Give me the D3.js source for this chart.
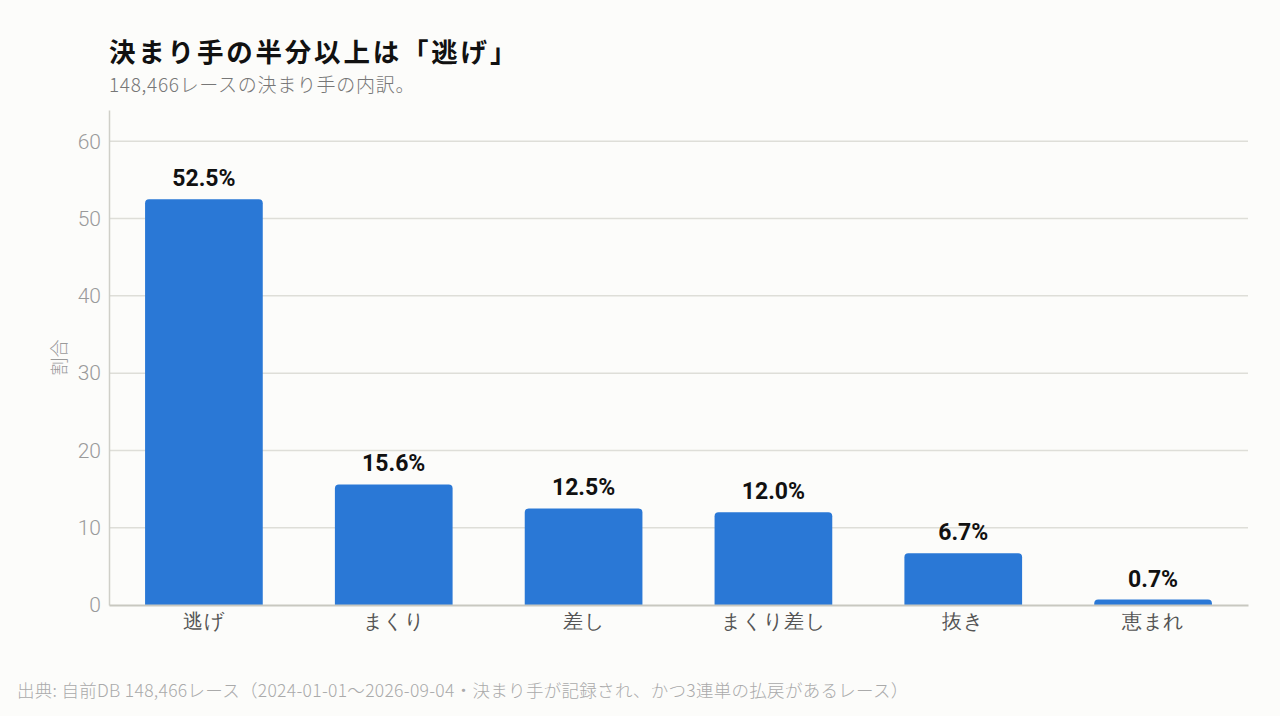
<!DOCTYPE html>
<html lang="ja">
<head>
<meta charset="utf-8">
<script src="https://cdn.jsdelivr.net/npm/d3@7"></script>
<style>
  html, body { margin: 0; padding: 0; background: #fcfcfa; }
  svg { display: block; font-family: "Noto Sans CJK JP", "Noto Sans", sans-serif; }
</style>
</head>
<body>
<div id="chart"></div>
<script>
// データ
const categories = ["逃げ", "まくり", "差し", "まくり差し", "抜き", "恵まれ"];
const shares = [52.5, 15.6, 12.5, 12.0, 6.7, 0.7];
const yTicks = [0, 10, 20, 30, 40, 50, 60];

const width = 1280;
const height = 716;
const margin = { top: 110, right: 32, bottom: 111, left: 109 };
const innerW = width - margin.left - margin.right;
const innerH = height - margin.top - margin.bottom;

const svg = d3.select("#chart")
    .append("svg")
    .attr("width", width)
    .attr("height", height);

svg.append("rect")
    .attr("width", width)
    .attr("height", height)
    .attr("fill", "#fcfcfa");

// タイトル
svg.append("text")
    .attr("x", 109)
    .attr("y", 62)
    .attr("font-size", 26.5)
    .attr("font-weight", 700)
    .attr("letter-spacing", 2.8)
    .attr("fill", "#111")
    .text("決まり手の半分以上は「逃げ」");

svg.append("text")
    .attr("x", 109)
    .attr("y", 92)
    .attr("font-size", 19)
    .attr("font-weight", 300)
    .attr("letter-spacing", 0.7)
    .attr("fill", "#777")
    .text("148,466レースの決まり手の内訳。");

const g = svg.append("g")
    .attr("transform", `translate(${margin.left}, ${margin.top})`);

// スケール
const x = d3.scaleBand()
    .domain(categories)
    .range([0, innerW])
    .paddingInner(0.38)
    .paddingOuter(0.19);

const y = d3.scaleLinear()
    .domain([0, d3.max(shares) * 1.22])
    .range([innerH, 0]);

// グリッド
g.append("g")
    .selectAll("line")
    .data(yTicks.filter(d => d > 0))
    .enter()
    .append("line")
    .attr("x1", 0)
    .attr("x2", innerW)
    .attr("y1", d => y(d))
    .attr("y2", d => y(d))
    .attr("stroke", "#deded8")
    .attr("stroke-width", 1.5);

// Y軸
const yAxis = g.append("g")
    .call(d3.axisLeft(y).tickValues(yTicks).tickSize(0).tickPadding(8));
yAxis.select(".domain").attr("stroke", "#cfcfc8").attr("stroke-width", 1.5);
yAxis.selectAll("text")
    .attr("font-size", 21)
    .attr("font-weight", 300)
    .attr("fill", "#9a9a9a")
    .attr("font-family", "Roboto, 'Noto Sans', sans-serif");

g.append("text")
    .attr("transform", `translate(-43, ${innerH / 2}) rotate(-90)`)
    .attr("text-anchor", "middle")
    .attr("font-size", 18)
    .attr("font-weight", 300)
    .attr("fill", "#9a9a9a")
    .text("割合");

// バー（上端のみ角丸）
const r = 4;
g.selectAll(".bar")
    .data(shares)
    .enter()
    .append("path")
    .attr("class", "bar")
    .attr("fill", "#2a78d6")
    .attr("d", (d, i) => {
        const x0 = x(categories[i]);
        const w = x.bandwidth();
        const y0 = y(d);
        const y1 = y(0);
        const rr = Math.min(r, (y1 - y0));
        return `M${x0},${y1} L${x0},${y0 + rr} Q${x0},${y0} ${x0 + rr},${y0} ` +
            `L${x0 + w - rr},${y0} Q${x0 + w},${y0} ${x0 + w},${y0 + rr} L${x0 + w},${y1} Z`;
    });

// 値ラベル
g.selectAll(".label")
    .data(shares)
    .enter()
    .append("text")
    .attr("class", "label")
    .attr("x", (d, i) => x(categories[i]) + x.bandwidth() / 2)
    .attr("y", d => y(d) - 13)
    .attr("text-anchor", "middle")
    .attr("font-size", 23)
    .attr("font-weight", 700)
    .attr("fill", "#111")
    .attr("font-family", "Roboto, 'Liberation Sans', sans-serif")
    .text(d => d.toFixed(1) + "%");

// X軸
const xAxis = g.append("g")
    .attr("transform", `translate(0, ${innerH})`)
    .call(d3.axisBottom(x).tickSize(0).tickPadding(9));
xAxis.select(".domain").attr("stroke", "#c8c8c0").attr("stroke-width", 2);
xAxis.selectAll("text")
    .attr("font-size", 20)
    .attr("font-weight", 300)
    .attr("letter-spacing", 0.8)
    .attr("fill", "#555");

// 出典
svg.append("text")
    .attr("x", 17)
    .attr("y", 697)
    .attr("font-size", 17.5)
    .attr("font-weight", 300)
    .attr("letter-spacing", 0.3)
    .attr("fill", "#aaa")
    .text("出典: 自前DB 148,466レース（2024-01-01〜2026-09-04・決まり手が記録され、かつ3連単の払戻があるレース）");
</script>
</body>
</html>
